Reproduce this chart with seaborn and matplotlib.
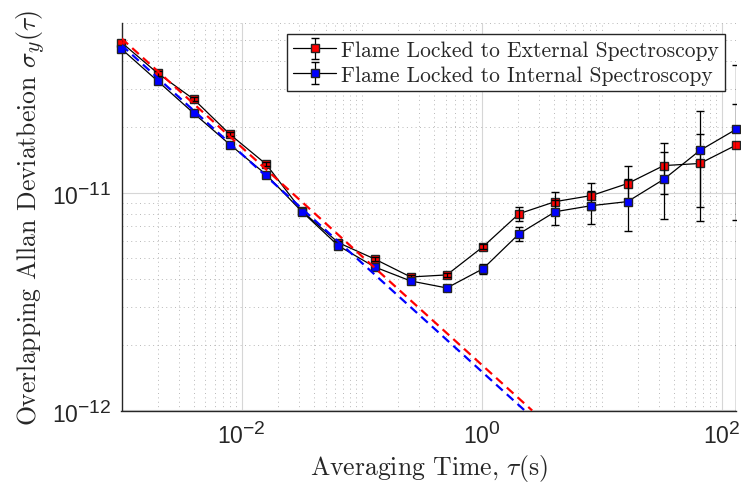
import matplotlib
matplotlib.use("Agg")
import matplotlib.pyplot as plt
import matplotlib.ticker as mticker
import matplotlib._mathtext as mathtext_internal
import seaborn as sns

# averaging times (s)
tau = [0.001, 0.002, 0.004, 0.008, 0.016, 0.032, 0.064, 0.128, 0.256,
       0.512, 1.024, 2.048, 4.096, 8.192, 16.384, 32.768, 65.536, 131.072]

# overlapping Allan deviation, external spectroscopy lock
adev_ext = [4.88e-11, 3.53e-11, 2.68e-11, 1.85e-11, 1.35e-11, 8.2e-12,
            5.89e-12, 4.96e-12, 4.10e-12, 4.19e-12, 5.64e-12, 8.0e-12,
            9.09e-12, 9.69e-12, 1.10e-11, 1.33e-11, 1.36e-11, 1.65e-11]
err_ext = [1.2e-12, 0.9e-12, 0.6e-12, 0.4e-12, 0.3e-12, 0.15e-12,
           0.12e-12, 0.1e-12, 0.1e-12, 0.1e-12, 0.15e-12, 0.6e-12,
           1.0e-12, 1.4e-12, 2.2e-12, 3.5e-12, 5.0e-12, 9.0e-12]

# internal spectroscopy lock
adev_int = [4.56e-11, 3.25e-11, 2.31e-11, 1.66e-11, 1.21e-11, 8.15e-12,
            5.70e-12, 4.56e-12, 3.93e-12, 3.65e-12, 4.47e-12, 6.47e-12,
            8.17e-12, 8.71e-12, 9.09e-12, 1.15e-11, 1.56e-11, 1.95e-11]
err_int = [1.0e-12, 0.8e-12, 0.5e-12, 0.35e-12, 0.25e-12, 0.15e-12,
           0.12e-12, 0.1e-12, 0.1e-12, 0.1e-12, 0.25e-12, 0.5e-12,
           1.1e-12, 1.5e-12, 2.4e-12, 3.9e-12, 8.2e-12, 1.9e-11]

# tau^-1/2 white noise fits (end points)
fit_tau_ext = [0.001, 2.63]
fit_ext = [5.1e-11, 1.0e-12]
fit_tau_int = [0.001, 2.28]
fit_int = [4.75e-11, 1.0e-12]

labels = ["Flame Locked to External Spectroscopy",
          "Flame Locked to Internal Spectroscopy"]

# MATLAB style tick labels have bigger exponents
mathtext_internal.SHRINK_FACTOR = 0.84

sns.set_style("white")
plt.rcParams["font.family"] = ["Liberation Sans", "DejaVu Sans"]
plt.rcParams["mathtext.fontset"] = "cm"
plt.rcParams["axes.formatter.use_mathtext"] = True

fig = plt.figure(figsize=(7.41, 4.85), dpi=100)
ax = fig.add_axes([121.5/741, 1 - 411.5/485, (736 - 121.5)/741, (411.5 - 24)/485])
ax.set_xscale("log")
ax.set_yscale("log")

# data with error bars
e1 = ax.errorbar(tau, adev_ext, yerr=err_ext, fmt="-s", color="black",
                 mfc="red", mec="#222222", mew=1.0, ms=6, lw=0.9,
                 elinewidth=0.9, capsize=3, capthick=0.9, barsabove=True,
                 label=labels[0], zorder=3)
e2 = ax.errorbar(tau, adev_int, yerr=err_int, fmt="-s", color="black",
                 mfc="blue", mec="#222222", mew=1.0, ms=6, lw=0.9,
                 elinewidth=0.9, capsize=3, capthick=0.9,
                 label=labels[1], zorder=3)
e1.lines[0].set_clip_on(False)
e2.lines[0].set_clip_on(False)

# fit lines
sns.lineplot(x=fit_tau_ext, y=fit_ext, ax=ax, color="red", lw=1.6,
             linestyle=(0, (4, 2.5)), zorder=4)
sns.lineplot(x=fit_tau_int, y=fit_int, ax=ax, color="blue", lw=1.6,
             linestyle=(0, (4, 2.5)), zorder=4)

ax.set_xlim(1e-3, 131.072)
ax.set_ylim(1e-12, 6e-11)

ax.xaxis.set_major_locator(mticker.FixedLocator([1e-2, 1, 1e2]))
ax.xaxis.set_minor_locator(mticker.LogLocator(base=10, subs=range(1, 10), numticks=50))
ax.xaxis.set_minor_formatter(mticker.NullFormatter())
ax.yaxis.set_major_locator(mticker.FixedLocator([1e-12, 1e-11]))
ax.yaxis.set_minor_locator(mticker.LogLocator(base=10, subs=range(2, 10), numticks=50))
ax.yaxis.set_minor_formatter(mticker.NullFormatter())

ax.grid(which="major", color="#d6d6d6", lw=0.8, ls="-")
ax.grid(which="minor", color="#b8b8b8", lw=0.7, ls=(0, (1, 3.5)))
ax.set_axisbelow(True)

for s in ["top", "right"]:
    ax.spines[s].set_visible(False)
for s in ["left", "bottom"]:
    ax.spines[s].set_color("#262626")
    ax.spines[s].set_linewidth(1.0)

ax.tick_params(which="both", direction="in", color="#262626", width=0.9)
ax.tick_params(which="major", length=5, labelsize=16.5, pad=7,
               labelcolor="#262626")
ax.tick_params(which="minor", length=3)

ax.set_xlabel(r"Averaging Time, $\tau$(s)", fontfamily="cmr10", fontsize=18.5,
              color="#262626", labelpad=3)
ax.set_ylabel(r"Overlapping Allan Deviatbeion $\sigma_y(\tau)$",
              fontfamily="cmr10", fontsize=18.5, color="#262626", labelpad=4)

leg = ax.legend(handles=[e1, e2], labels=labels, loc="upper right",
                bbox_to_anchor=(0.982, 0.972), borderaxespad=0,
                prop={"family": "cmr10", "size": 15.5}, frameon=True,
                fancybox=False, edgecolor="#262626", framealpha=1,
                handlelength=2.0, handletextpad=0.2, borderpad=0.3,
                labelspacing=0.25)
leg.get_frame().set_linewidth(1.0)

fig.savefig("out.png", dpi=100)
